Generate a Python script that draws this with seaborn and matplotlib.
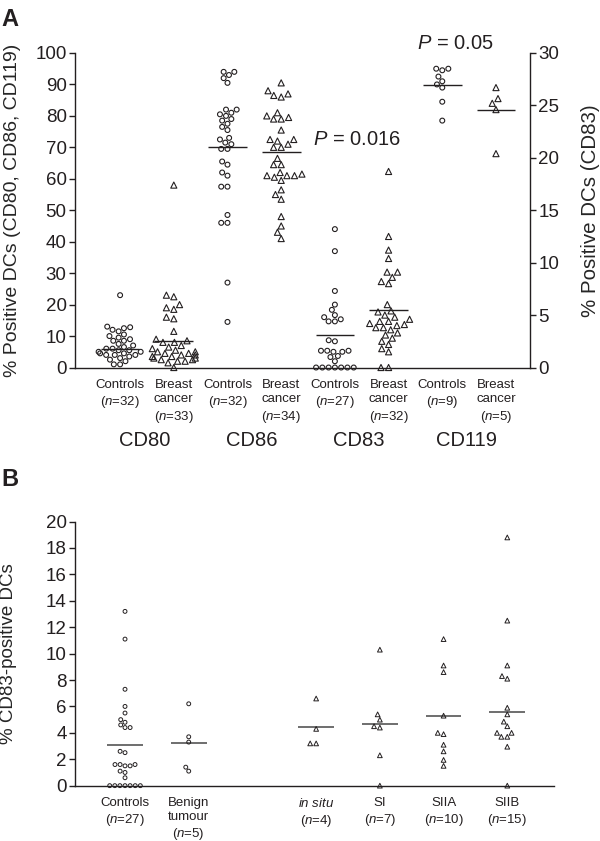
import warnings
import numpy as np
import pandas as pd
import matplotlib
matplotlib.use('Agg')
import matplotlib.pyplot as plt
import seaborn as sns

warnings.filterwarnings('ignore')

# ---- Panel A data (% positive DCs) ----
cd80_controls = [23, 13, 12.8, 12.5, 12, 11.5, 10.5, 10, 9.5, 9, 8.5, 8.5, 7.5, 7, 6.5, 6,
                 6, 5.5, 5.5, 5, 5, 4.5, 4.5, 4, 4, 4, 3.5, 3, 2.5, 2, 1, 1]
cd80_cancer = [58, 23, 22.5, 20, 19, 18.5, 16, 15.5, 11.5, 9, 8.5, 8, 8, 7, 6.5, 6, 5.5,
               5, 5, 4.5, 4.5, 4, 4, 3.5, 3.5, 3, 3, 2.5, 2.5, 2, 2, 1.5, 0]
cd86_controls = [94, 93, 94, 92, 90.5, 82, 81, 82, 80.5, 80, 79, 78.5, 77.5, 76.5, 75.5,
                 73, 72.5, 71.5, 71, 69.5, 69.5, 65.5, 64.5, 62, 61, 57.5, 57.5,
                 48.5, 46, 46, 27, 14.5]
cd86_cancer = [90.5, 88, 87, 86.5, 86, 81, 80, 79.5, 79, 79, 75.5, 72.5, 72.5, 72, 71, 70,
               70, 66.5, 64.5, 64.5, 62, 61.5, 61, 61, 61, 60.5, 59.5, 56.5, 55, 53.5,
               48, 45, 43, 41]
cd83_controls = [13.2, 11.1, 7.3, 6.0, 5.5, 5.0, 4.8, 4.6, 4.4, 4.4, 2.6, 2.5, 1.6, 1.6,
                 1.5, 1.5, 1.6, 1.1, 1.0, 0.6, 0, 0, 0, 0, 0, 0, 0]
cd83_cancer = [18.7, 12.5, 11.2, 10.4, 9.1, 9.1, 8.6, 8.2, 8.0, 6.0, 5.4, 5.3, 5.0, 4.8,
               4.6, 4.4, 4.4, 4.2, 4.1, 4.0, 3.8, 3.8, 3.6, 3.3, 3.1, 2.8, 2.5, 2.2, 1.8,
               1.5, 0, 0]
cd119_controls = [95, 95, 94.5, 92.5, 91, 90, 89, 84.5, 78.5]
cd119_cancer = [89, 85.5, 84, 82, 68]

a_groups = ['CD80 C', 'CD80 B', 'CD86 C', 'CD86 B', 'CD83 C', 'CD83 B', 'CD119 C', 'CD119 B']
a_ticklabels = ['Controls\n($\\it{n}$=32)', 'Breast\ncancer\n($\\it{n}$=33)',
                'Controls\n($\\it{n}$=32)', 'Breast\ncancer\n($\\it{n}$=34)',
                'Controls\n($\\it{n}$=27)', 'Breast\ncancer\n($\\it{n}$=32)',
                'Controls\n($\\it{n}$=9)', 'Breast\ncancer\n($\\it{n}$=5)']
a_markers = ['CD80', 'CD86', 'CD83', 'CD119']
a_lines = [6, 8.5, 70, 68.5, 3.1, 5.5, 89.8, 81.9]
a_pvalues = ['0.016', '0.05']

# ---- Panel B data (% CD83-positive DCs) ----
b_controls = cd83_controls
b_benign = [6.2, 3.7, 3.3, 1.4, 1.1]
b_insitu = [6.6, 4.3, 3.2, 3.2]
b_si = [10.3, 5.4, 5.0, 4.5, 4.4, 2.3, 0]
b_siia = [11.1, 9.1, 8.6, 5.3, 4.0, 3.9, 3.1, 2.6, 1.95, 1.5]
b_siib = [18.8, 12.5, 9.1, 8.3, 8.1, 5.9, 5.4, 4.85, 4.5, 4.0, 4.0, 3.7, 3.7, 2.95, 0]
b_groups = ['Controls', 'Benign', '', 'in situ', 'SI', 'SIIA', 'SIIB']
b_ticklabels = ['Controls\n($\\it{n}$=27)', 'Benign\ntumour\n($\\it{n}$=5)', '',
                '$\\it{in\\ situ}$\n($\\it{n}$=4)', 'SI\n($\\it{n}$=7)',
                'SIIA\n($\\it{n}$=10)', 'SIIB\n($\\it{n}$=15)']
b_lines = [3.05, 3.25, None, 4.45, 4.7, 5.3, 5.6]

ink = '#231f20'

sns.set_style('ticks')
plt.rcParams['font.family'] = ['Liberation Sans', 'DejaVu Sans']
plt.rcParams['mathtext.fontset'] = 'custom'
plt.rcParams['mathtext.rm'] = 'Liberation Sans'
plt.rcParams['mathtext.it'] = 'Liberation Sans:italic'
plt.rcParams['text.color'] = ink
plt.rcParams['axes.edgecolor'] = ink
plt.rcParams['xtick.color'] = ink
plt.rcParams['ytick.color'] = ink


def to_frame(d):
    rows = [(g, v) for g, vals in d.items() for v in vals]
    return pd.DataFrame(rows, columns=['group', 'value'])


def swarm(ax, d, order, marker, size, lw):
    sns.swarmplot(data=to_frame(d), x='group', y='value', order=order, marker=marker,
                  size=size, facecolors='none', edgecolor=ink, linewidth=lw,
                  clip_on=False, ax=ax)
    # empty groups leave empty scatters that would draw a stray marker at the corner
    for c in list(ax.collections):
        if len(c.get_offsets()) == 0:
            c.remove()


fig = plt.figure(figsize=(6, 8.41), dpi=100)

# ================= Panel A =================
ax = fig.add_axes([0.125, 0.563, 0.758, 0.374])
ax2 = ax.twinx()

swarm(ax, {'CD80 C': cd80_controls, 'CD86 C': cd86_controls, 'CD119 C': cd119_controls},
      a_groups, 'o', 3.5, 0.8)
swarm(ax, {'CD80 B': cd80_cancer, 'CD86 B': cd86_cancer, 'CD119 B': cd119_cancer},
      a_groups, '^', 4.4, 0.8)
swarm(ax2, {'CD83 C': cd83_controls}, a_groups, 'o', 3.5, 0.8)
swarm(ax2, {'CD83 B': cd83_cancer}, a_groups, '^', 4.4, 0.8)

for i, v in enumerate(a_lines):
    target = ax2 if a_groups[i].startswith('CD83') else ax
    target.hlines(v, i - 0.36, i + 0.36, color=ink, lw=1.0, zorder=1)

ax.set_xlim(-0.84, 7.63)
ax.set_ylim(0, 100)
ax2.set_ylim(0, 30)
ax.set_yticks(np.arange(0, 101, 10))
ax2.set_yticks(np.arange(0, 31, 5))
ax.set_xticks(range(len(a_groups)))
ax.set_xticklabels(a_ticklabels, fontsize=9.5, linespacing=1.3, va='top')
ax.tick_params(axis='x', length=0, pad=8)
ax.tick_params(axis='y', labelsize=13.5, length=4, width=1, pad=2)
ax2.tick_params(axis='y', labelsize=13.5, length=4, width=1, pad=2)
ax.set_xlabel('')
ax2.set_xlabel('')
ax.set_ylabel('% Positive DCs (CD80, CD86, CD119)', fontsize=14)
ax2.set_ylabel('% Positive DCs (CD83)', fontsize=14.8, rotation=90)
ax.yaxis.set_label_coords(-0.118, 0.5)
ax2.yaxis.set_label_coords(1.112, 0.5)

for a in (ax, ax2):
    a.spines['top'].set_visible(False)
    for s in a.spines.values():
        s.set_linewidth(1.0)
ax.spines['right'].set_visible(False)
ax2.spines['left'].set_visible(False)
ax2.spines['bottom'].set_visible(False)
ax2.spines['right'].set_bounds(0, 30)

trans = ax.get_xaxis_transform()
for k, name in enumerate(a_markers):
    ax.text(2 * k + 0.45, -0.232, name, transform=trans, ha='center', va='center',
            fontsize=14.5)

ax.text(4.42, 72.5, '$\\it{P}$ = ' + a_pvalues[0], ha='center', va='center', fontsize=14.5)
ax.text(6.25, 103, '$\\it{P}$ = ' + a_pvalues[1], ha='center', va='center', fontsize=14.5,
        clip_on=False)

# ================= Panel B =================
bx = fig.add_axes([0.125, 0.0658, 0.798, 0.314])
swarm(bx, {'Controls': b_controls, 'Benign': b_benign}, b_groups, 'o', 2.8, 0.7)
swarm(bx, {'in situ': b_insitu, 'SI': b_si, 'SIIA': b_siia, 'SIIB': b_siib},
      b_groups, '^', 3.4, 0.7)
for i, v in enumerate(b_lines):
    if v is not None:
        bx.hlines(v, i - 0.28, i + 0.28, color='#555555', lw=1.2, zorder=1)

bx.set_xlim(-0.785, 6.73)
bx.set_ylim(0, 20)
bx.set_yticks(np.arange(0, 21, 2))
bx.set_xticks(range(len(b_groups)))
bx.set_xticklabels(b_ticklabels, fontsize=9.5, linespacing=1.25, va='top')
bx.tick_params(axis='x', length=0, pad=8)
bx.tick_params(axis='y', labelsize=13.5, length=4, width=1, pad=2)
bx.set_xlabel('')
bx.set_ylabel('% CD83-positive DCs', fontsize=13.5)
bx.yaxis.set_label_coords(-0.122, 0.5)
sns.despine(ax=bx)
for s in bx.spines.values():
    s.set_linewidth(1.0)

fig.text(0.003, 0.99, 'A', fontsize=17, fontweight='bold', va='top', ha='left')
fig.text(0.003, 0.443, 'B', fontsize=17, fontweight='bold', va='top', ha='left')

fig.savefig('out.png', dpi=100)
